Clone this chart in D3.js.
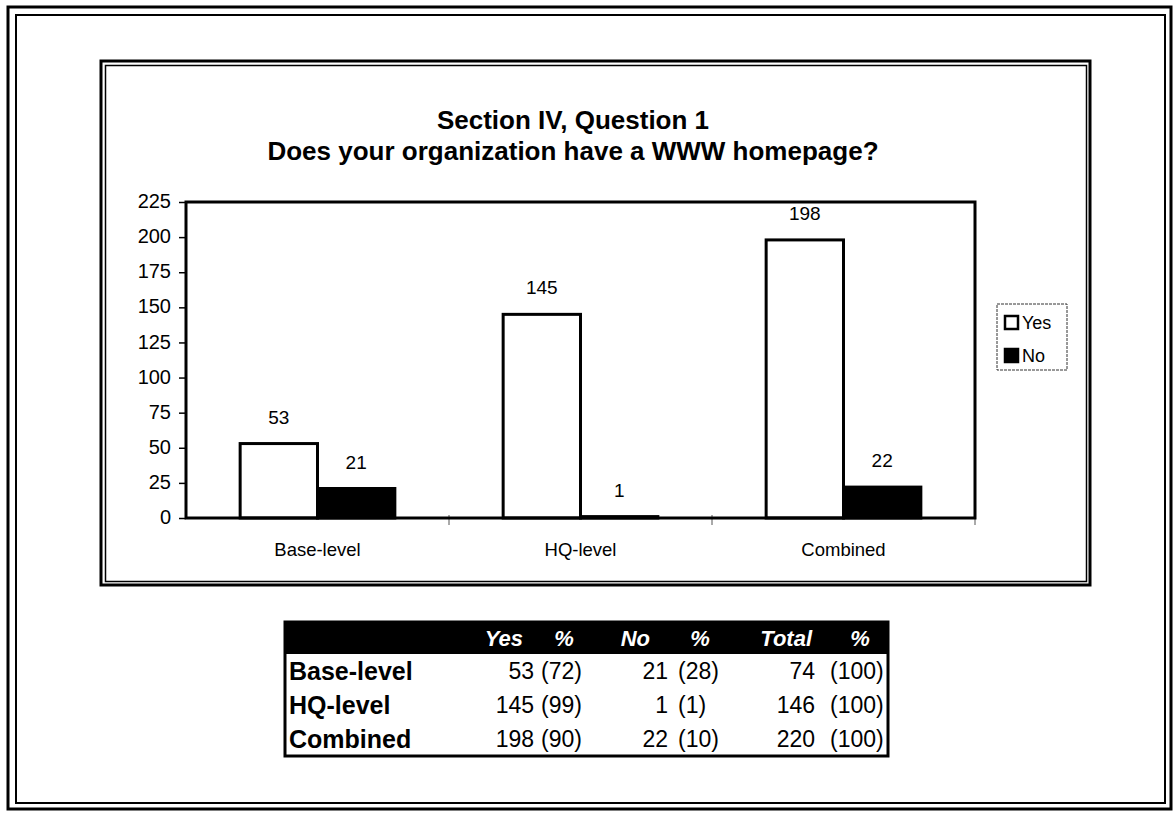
<!DOCTYPE html>
<html>
<head>
<meta charset="utf-8">
<script src="https://d3js.org/d3.v7.min.js"></script>
<style>
  body { margin: 0; background: #fff; }
  svg text { font-family: Arial, "Liberation Sans", sans-serif; }
</style>
</head>
<body>
<div id="chart"></div>
<script>
// chart data
var categories = ["Base-level", "HQ-level", "Combined"];
var series = ["Yes", "No"];
var yesCounts = [53, 145, 198];
var noCounts = [21, 1, 22];
var yTicks = [0, 25, 50, 75, 100, 125, 150, 175, 200, 225];

// table data
var yesPct = [72, 99, 90];
var noPct = [28, 1, 10];
var totals = [74, 146, 220];
var totalPct = [100, 100, 100];
var tableHeaders = ["Yes", "%", "No", "%", "Total", "%"];

var W = 1174, H = 815;
var svg = d3.select("#chart").append("svg")
  .attr("width", W).attr("height", H);

// outer page frame (double line)
svg.append("rect").attr("x", 8).attr("y", 7).attr("width", 1163).attr("height", 802)
  .attr("fill", "none").attr("stroke", "#000").attr("stroke-width", 3);
svg.append("rect").attr("x", 16).attr("y", 15).attr("width", 1149).attr("height", 788)
  .attr("fill", "none").attr("stroke", "#000").attr("stroke-width", 2);

// chart area frame (double line)
svg.append("rect").attr("x", 101).attr("y", 61).attr("width", 989).attr("height", 524)
  .attr("fill", "none").attr("stroke", "#000").attr("stroke-width", 3);
svg.append("rect").attr("x", 105.5).attr("y", 65.5).attr("width", 981).attr("height", 516)
  .attr("fill", "none").attr("stroke", "#000").attr("stroke-width", 1.5);

// title
var title = svg.append("text")
  .attr("text-anchor", "middle")
  .style("font-weight", "bold").style("font-size", "26px");
title.append("tspan").attr("x", 573).attr("y", 129).text("Section IV, Question 1");
title.append("tspan").attr("x", 573).attr("y", 160).text("Does your organization have a WWW homepage?");

// plot area
var plot = {left: 186, right: 975, top: 202, bottom: 518};

var x0 = d3.scaleBand()
  .domain(categories)
  .range([plot.left, plot.right])
  .paddingInner(0).paddingOuter(0);

var x1 = d3.scaleBand()
  .domain(series)
  .range([0, x0.bandwidth()])
  .paddingInner(0).paddingOuter(0.7);

var y = d3.scaleLinear()
  .domain([0, 225])
  .range([plot.bottom, plot.top]);

var color = d3.scaleOrdinal().domain(series).range(["#fff", "#000"]);

// y axis
var yAxis = svg.append("g")
  .attr("transform", "translate(" + plot.left + ",0)")
  .call(d3.axisLeft(y).tickValues(yTicks).tickSize(7).tickPadding(8));
yAxis.select(".domain").remove();
yAxis.selectAll("line").attr("stroke", "#000").attr("stroke-width", 1.5);
yAxis.selectAll("text")
  .style("font-size", "20px").attr("fill", "#000").attr("dy", "0.28em");

// x axis: tick marks at category boundaries
var boundaries = categories.slice(1).map(function(c) { return x0(c); });
boundaries.push(plot.right);
svg.selectAll(".xtick")
  .data(boundaries).enter()
  .append("line")
    .attr("class", "xtick")
    .attr("x1", function(d) { return d; }).attr("x2", function(d) { return d; })
    .attr("y1", plot.bottom - 3).attr("y2", plot.bottom + 7)
    .attr("stroke", "#555").attr("stroke-width", 1);

svg.selectAll(".xlabel")
  .data(categories).enter()
  .append("text")
    .attr("class", "xlabel")
    .attr("x", function(d) { return x0(d) + x0.bandwidth() / 2; })
    .attr("y", 556)
    .attr("text-anchor", "middle")
    .style("font-size", "18.5px")
    .text(function(d) { return d; });

// bars
var rows = categories.map(function(c, i) {
  return {cat: c, values: [{key: "Yes", value: yesCounts[i]}, {key: "No", value: noCounts[i]}]};
});

var groups = svg.selectAll(".group")
  .data(rows).enter()
  .append("g")
    .attr("class", "group")
    .attr("transform", function(d) { return "translate(" + x0(d.cat) + ",0)"; });

groups.selectAll("rect")
  .data(function(d) { return d.values; }).enter()
  .append("rect")
    .attr("x", function(d) { return x1(d.key); })
    .attr("y", function(d) { return y(d.value); })
    .attr("width", x1.bandwidth())
    .attr("height", function(d) { return y(0) - y(d.value); })
    .attr("fill", function(d) { return color(d.key); })
    .attr("stroke", "#000")
    .attr("stroke-width", 3);

groups.selectAll(".barlabel")
  .data(function(d) { return d.values; }).enter()
  .append("text")
    .attr("class", "barlabel")
    .attr("x", function(d) { return x1(d.key) + x1.bandwidth() / 2; })
    .attr("y", function(d) { return y(d.value) - 20; })
    .attr("text-anchor", "middle")
    .style("font-size", "19px")
    .text(function(d) { return d.value; });

// plot border
svg.append("rect")
  .attr("x", plot.left).attr("y", plot.top)
  .attr("width", plot.right - plot.left).attr("height", plot.bottom - plot.top)
  .attr("fill", "none").attr("stroke", "#000").attr("stroke-width", 3);

// legend
var legend = svg.append("g").attr("transform", "translate(997,304)");
legend.append("rect").attr("width", 70).attr("height", 66)
  .attr("fill", "#fff").attr("stroke", "#333").attr("stroke-width", 1)
  .attr("stroke-dasharray", "3,1");
var legItems = legend.selectAll(".leg")
  .data(series).enter()
  .append("g")
    .attr("class", "leg")
    .attr("transform", function(d, i) { return "translate(8," + (12 + i * 33) + ")"; });
legItems.append("rect")
  .attr("width", 13).attr("height", 13)
  .attr("fill", function(d) { return color(d); })
  .attr("stroke", "#000").attr("stroke-width", 2.5);
legItems.append("text")
  .attr("x", 17).attr("y", 7).attr("dy", "0.32em")
  .style("font-size", "18px")
  .text(function(d) { return d; });

// summary table
var tbl = {left: 285, right: 888, top: 622, headH: 32, rowH: 34};
var tg = svg.append("g");
var tableBottom = tbl.top + tbl.headH + tbl.rowH * categories.length;

tg.append("rect")
  .attr("x", tbl.left).attr("y", tbl.top)
  .attr("width", tbl.right - tbl.left).attr("height", tbl.headH)
  .attr("fill", "#000");
tg.append("rect")
  .attr("x", tbl.left).attr("y", tbl.top)
  .attr("width", tbl.right - tbl.left).attr("height", tableBottom - tbl.top)
  .attr("fill", "none").attr("stroke", "#000").attr("stroke-width", 3);

// header anchors
var headX = [523, 564, 650, 700, 812, 860];
var headAnchor = ["end", "middle", "end", "middle", "end", "middle"];

tg.selectAll(".thead")
  .data(tableHeaders).enter()
  .append("text")
    .attr("class", "thead")
    .attr("x", function(d, i) { return headX[i]; })
    .attr("y", tbl.top + tbl.headH / 2)
    .attr("dy", "0.35em")
    .attr("text-anchor", function(d, i) { return headAnchor[i]; })
    .attr("fill", "#fff")
    .style("font-weight", "bold").style("font-style", "italic").style("font-size", "22px")
    .text(function(d) { return d; });

// value cells right-aligned, percentage cells left-aligned
var colX = [534, 541, 668, 678, 815, 830];
var colAnchor = ["end", "start", "end", "start", "end", "start"];

var tableRows = categories.map(function(c, i) {
  return [yesCounts[i], "(" + yesPct[i] + ")", noCounts[i], "(" + noPct[i] + ")",
          totals[i], "(" + totalPct[i] + ")"];
});

var tr = tg.selectAll(".trow")
  .data(tableRows).enter()
  .append("g")
    .attr("class", "trow")
    .attr("transform", function(d, i) {
      return "translate(0," + (tbl.top + tbl.headH + tbl.rowH * i + tbl.rowH / 2) + ")";
    });

tr.append("text")
  .attr("x", tbl.left + 4).attr("dy", "0.36em")
  .style("font-weight", "bold").style("font-size", "25px")
  .text(function(d, i) { return categories[i]; });

tr.selectAll(".cell")
  .data(function(d) { return d; }).enter()
  .append("text")
    .attr("class", "cell")
    .attr("x", function(d, i) { return colX[i]; })
    .attr("dy", "0.36em")
    .attr("text-anchor", function(d, i) { return colAnchor[i]; })
    .style("font-size", "23px")
    .text(function(d) { return d; });
</script>
</body>
</html>
